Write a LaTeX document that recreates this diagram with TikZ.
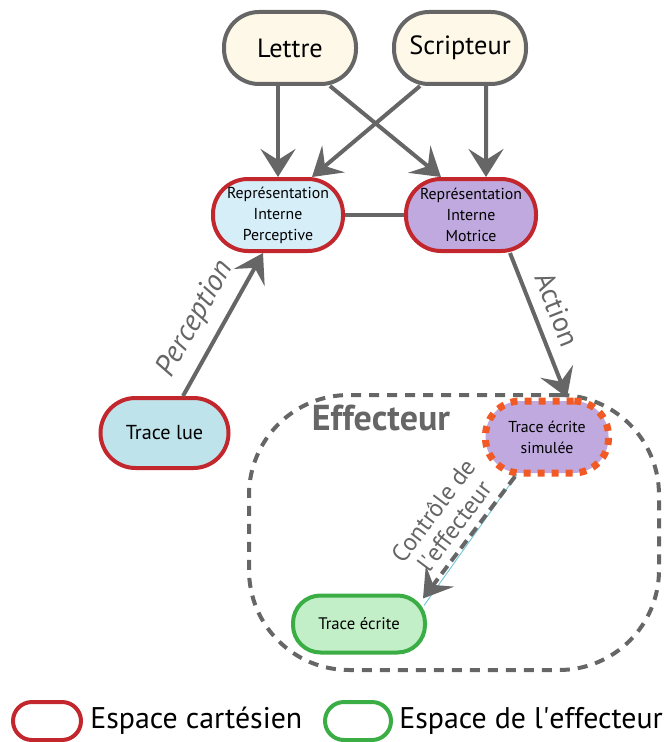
\documentclass[tikz,border=0pt]{standalone}
\usepackage{fontspec}
\setmainfont{PT Sans}
\usepackage{tikz}
\usetikzlibrary{positioning,arrows.meta}
\usepackage{xcolor}
\definecolor{gristrait}{HTML}{666666}
\definecolor{creme}{HTML}{FDF8E7}
\definecolor{rougecart}{HTML}{C1272D}
\definecolor{bleuclair}{HTML}{D6EEF8}
\definecolor{bleulue}{HTML}{BEE3EB}
\definecolor{violet}{HTML}{BFA9DF}
\definecolor{orangesim}{HTML}{F15A24}
\definecolor{vertcadre}{HTML}{3AAE45}
\definecolor{vertfond}{HTML}{C2EFC7}
\definecolor{cyanfin}{HTML}{6CC6D6}

\begin{document}
\begin{tikzpicture}[
		source/.style={shape=rectangle, rounded corners=0.7cm, draw=gristrait, line width=0.08cm, fill=creme, minimum width=2.64cm, minimum height=1.44cm, font=\fontsize{15}{18}\selectfont},
		cartesien/.style={shape=rectangle, rounded corners=0.7cm, draw=rougecart, line width=0.08cm, minimum width=2.6cm, minimum height=1.44cm, align=center, inner sep=1pt, font=\fontsize{9}{12}\selectfont},
		fleche/.style={draw=gristrait, line width=0.08cm, -{Stealth[length=0.56cm,width=0.7cm,inset=0.22cm]}},
		etiquette/.style={text=gristrait, font=\fontsize{16}{18}\selectfont}
	]
		\useasboundingbox (0,0) rectangle (13.3,-14.84);
		
		% zone de l'effecteur
		\node[shape=rectangle, rounded corners=2cm, draw=gristrait, line width=0.08cm, dash pattern=on 0.2cm off 0.16cm, minimum width=8.2cm, minimum height=5.5cm] (effecteur) at (9.08, -10.65) {};
		\node[text=gristrait, font=\fontsize{20.5}{24}\selectfont\bfseries] (titre) at (7.62, -8.36) {Effecteur};
		
		\node[source] (lettre) at (5.8, -0.96) {Lettre};
		\node[source] (scripteur) at (9.2, -0.96) {Scripteur};
		\node[cartesien, fill=bleuclair] (rip) at (5.56, -4.3) {Représentation\\Interne\\Perceptive};
		\node[cartesien, fill=violet] (rim) at (9.42, -4.3) {Représentation\\Interne\\Motrice};
		\node[cartesien, fill=bleulue, minimum width=2.56cm, minimum height=1.4cm, font=\fontsize{11.5}{14}\selectfont] (tracelue) at (3.29, -8.66) {Trace lue};
		\node[shape=rectangle, rounded corners=0.7cm, fill=violet, draw=orangesim, line width=0.14cm, dash pattern=on 0.14cm off 0.14cm, minimum width=2.46cm, minimum height=1.44cm, align=center, font=\fontsize{9}{12}\selectfont] (simulee) at (10.94, -8.74) {Trace écrite\\simulée};
		\node[shape=rectangle, rounded corners=0.55cm, fill=vertfond, draw=vertcadre, line width=0.08cm, minimum width=2.64cm, minimum height=1.14cm, font=\fontsize{9.5}{12}\selectfont] (ecrite) at (7.18, -12.48) {Trace écrite};
		
		\path ([xshift=-0.24cm]lettre.south) edge[fleche] (rip.north);
		\path ([xshift=0.8cm]lettre.south) edge[fleche] ([xshift=-0.6cm]rim.north);
		\path ([xshift=-0.8cm]scripteur.south) edge[fleche] ([xshift=0.68cm]rip.north);
		\path ([xshift=0.52cm]scripteur.south) edge[fleche] ([xshift=0.3cm]rim.north);
		\path (rip) edge[draw=gristrait, line width=0.08cm] (rim);
		
		\path ([xshift=0.37cm]tracelue.north) edge[fleche] node[etiquette, sloped, above=3pt, pos=0.45, font=\fontsize{17}{18}\selectfont\itshape]{Perception} ([xshift=-0.3cm]rip.south);
		\path ([xshift=0.78cm]rim.south) edge[fleche] node[etiquette, sloped, above=3pt, pos=0.45]{Action} ([xshift=0.4cm]simulee.north);
		
		\path ([xshift=-0.6cm,yshift=0.04cm]simulee.south) edge[draw=cyanfin, line width=0.5pt] ([xshift=1.3cm,yshift=-0.24cm]ecrite.north);
		\path ([xshift=-0.64cm]simulee.south) edge[fleche, dash pattern=on 0.2cm off 0.12cm] node[etiquette, sloped, above=1pt, align=center, font=\fontsize{14}{15}\selectfont]{Contrôle de\\l\textquotesingle effecteur} ([xshift=1.28cm,yshift=-0.1cm]ecrite.north);
		
		% legende
		\node[shape=rectangle, rounded corners=0.38cm, draw=rougecart, line width=0.08cm, minimum width=1.36cm, minimum height=0.76cm] (legrouge) at (0.94, -14.42) {};
		\node[anchor=west, font=\fontsize{17}{20}\selectfont, inner sep=0pt] (legcart) at (1.8, -14.42) {Espace cartésien};
		\node[shape=rectangle, rounded corners=0.38cm, draw=vertcadre, line width=0.08cm, minimum width=1.32cm, minimum height=0.76cm] (legvert) at (7.16, -14.42) {};
		\node[anchor=west, font=\fontsize{17}{20}\selectfont, inner sep=0pt] (legeff) at (7.98, -14.42) {Espace de l\textquotesingle effecteur};
		\end{tikzpicture}
\end{document}
